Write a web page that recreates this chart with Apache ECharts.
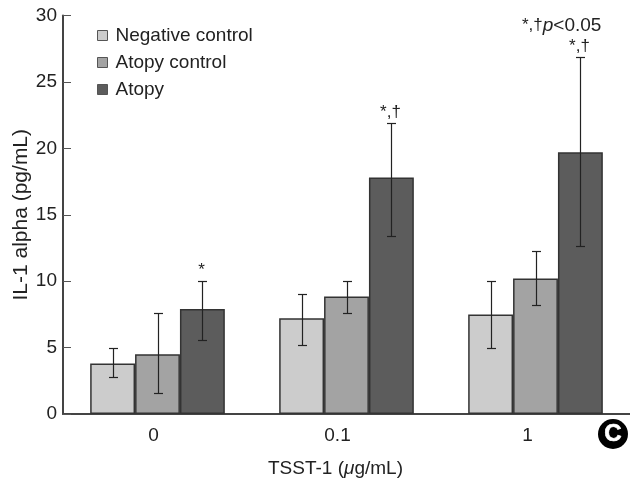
<!DOCTYPE html>
<html>
<head>
<meta charset="utf-8">
<style>html,body{margin:0;padding:0;background:#fff}#c{width:630px;height:484px}</style>
<script src="https://cdn.jsdelivr.net/npm/echarts@6/dist/echarts.min.js"></script>
</head>
<body>
<div id="c"></div>
<script>
const categories = ['0', '0.1', '1'];
const yTicks = [0, 5, 10, 15, 20, 25, 30];
const negativeControl = [3.8, 7.2, 7.5];
const negativeLow = [2.8, 5.2, 5.0];
const negativeHigh = [5.0, 9.05, 10.05];
const atopyControl = [4.5, 8.85, 10.2];
const atopyControlLow = [1.55, 7.6, 8.2];
const atopyControlHigh = [7.6, 10.05, 12.25];
const atopy = [7.9, 17.8, 19.7];
const atopyLow = [5.6, 13.4, 12.65];
const atopyHigh = [10.05, 21.9, 26.9];
const atopyMarks = ['*', '*,†', '*,†'];

const FONT = '"Liberation Sans", Arial, sans-serif';
const BAR_FRACTION = 0.2375;
const EDGE = '#333333';

function bar(name, color, values) {
  return {
    name, type: 'bar', data: values, barWidth: (BAR_FRACTION * 100) + '%', barGap: '0%',
    itemStyle: { color, borderColor: EDGE, borderWidth: 1.5 }
  };
}
function errors(name, slot, lows, highs, marks) {
  return {
    name: name + ' error', type: 'custom', silent: true, z: 5,
    data: categories.map((c, i) => [i, lows[i], highs[i], marks ? marks[i] : '']),
    encode: { x: 0, y: [1, 2] },
    renderItem(params, api) {
      const i = api.value(0);
      const band = api.size([1, 0])[0];
      const x = Math.round(api.coord([i, 0])[0] + slot * BAR_FRACTION * band) + 0.5;
      const lo = Math.round(api.coord([i, api.value(1)])[1]) + 0.5;
      const hi = Math.round(api.coord([i, api.value(2)])[1]) + 0.5;
      const cap = 4.5;
      const st = { stroke: '#222222', lineWidth: 1.2 };
      const children = [
        { type: 'line', shape: { x1: x, y1: lo, x2: x, y2: hi }, style: st },
        { type: 'line', shape: { x1: x - cap, y1: lo, x2: x + cap, y2: lo }, style: st },
        { type: 'line', shape: { x1: x - cap, y1: hi, x2: x + cap, y2: hi }, style: st }
      ];
      const mark = marks ? marks[i] : '';
      if (mark) {
        children.push({
          type: 'text',
          style: { x: x - 1, y: hi - 3, text: mark, align: 'center', verticalAlign: 'bottom',
            font: '17px ' + FONT, fill: '#222222' }
        });
      }
      return { type: 'group', children };
    }
  };
}

const chart = echarts.init(document.getElementById('c'), null, { renderer: 'canvas' });
chart.setOption({
  animation: false,
  backgroundColor: '#ffffff',
  textStyle: { fontFamily: FONT },
  grid: { left: 63, right: 0, top: 15.5, bottom: 70, outerBoundsMode: 'none' },
  legend: {
    left: 92, top: 21, orient: 'vertical', icon: 'rect', itemWidth: 10, itemHeight: 10, itemGap: 8,
    data: ['Negative control', 'Atopy control', 'Atopy'],
    textStyle: { fontFamily: FONT, fontSize: 19, color: '#222222', padding: [0, 0, 0, 3] },
    selectedMode: false,
    itemStyle: { borderColor: '#555555', borderWidth: 1 }
  },
  xAxis: {
    type: 'category', data: categories,
    name: 'TSST-1 ({mu|μ}g/mL)', nameLocation: 'middle', nameGap: 45,
    nameTextStyle: { fontFamily: FONT, fontSize: 19, color: '#222222', padding: [0, 22, 0, 0],
      rich: { mu: { fontFamily: FONT, fontSize: 19, fontStyle: 'italic', color: '#222222' } } },
    axisLine: { lineStyle: { color: '#444444', width: 2 } },
    axisTick: { inside: true, length: 8, lineStyle: { color: '#555555', width: 1 } },
    axisLabel: { fontFamily: FONT, fontSize: 19, color: '#222222', margin: 12,
      formatter: (v, i) => '{l' + i + '|' + v + '}',
      rich: {
        l0: { fontFamily: FONT, fontSize: 19, color: '#222222', padding: [0, 8, 0, 0] },
        l1: { fontFamily: FONT, fontSize: 19, color: '#222222', padding: [0, 18, 0, 0] },
        l2: { fontFamily: FONT, fontSize: 19, color: '#222222', padding: [0, 16, 0, 0] }
      } }
  },
  yAxis: {
    type: 'value', min: 0, max: 30, interval: 5,
    name: 'IL-1 alpha (pg/mL)', nameLocation: 'middle', nameGap: 31, nameMoveOverlap: false,
    nameTextStyle: { fontFamily: FONT, fontSize: 21, color: '#222222' },
    splitLine: { show: false },
    axisLine: { show: true, lineStyle: { color: '#444444', width: 2 } },
    axisTick: { show: true, inside: true, length: 8, lineStyle: { color: '#555555', width: 1 } },
    axisLabel: { fontFamily: FONT, fontSize: 19, color: '#222222', margin: 6,
      customValues: yTicks }
  },
  graphic: [
    { type: 'text', left: 522, top: 16, z: 10,
      style: { rich: {
          m: { font: '17px ' + FONT, fill: '#222222' },
          p: { font: 'italic 19px ' + FONT, fill: '#222222' },
          t: { font: '19px ' + FONT, fill: '#222222' } },
        text: '{m|*,†}{p|p}{t|<0.05}' } },
    { type: 'circle', shape: { cx: 613, cy: 434, r: 15 }, style: { fill: '#000000' }, z: 10 },
    { type: 'text', x: 613, y: 434, z: 11,
      style: { text: 'C', align: 'center', verticalAlign: 'middle',
        font: 'bold 24px ' + FONT, fill: '#ffffff', stroke: '#ffffff', lineWidth: 0.6 } }
  ],
  series: [
    bar('Negative control', '#cccccc', negativeControl),
    bar('Atopy control', '#a3a3a3', atopyControl),
    bar('Atopy', '#5c5c5c', atopy),
    errors('Negative control', -1, negativeLow, negativeHigh),
    errors('Atopy control', 0, atopyControlLow, atopyControlHigh),
    errors('Atopy', 1, atopyLow, atopyHigh, atopyMarks)
  ]
});
</script>
</body>
</html>
